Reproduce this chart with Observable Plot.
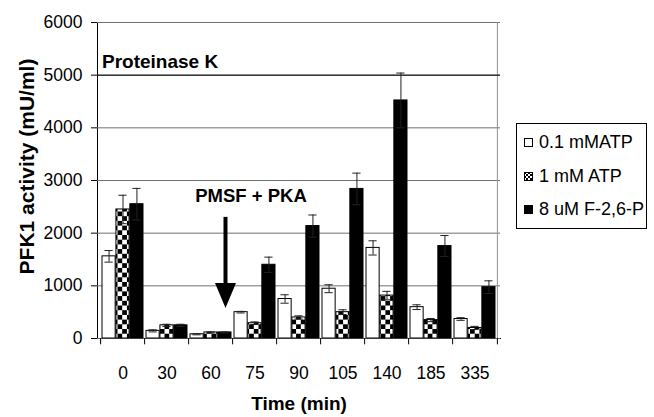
<!DOCTYPE html>
<html><head><meta charset="utf-8">
<script src="https://cdn.jsdelivr.net/npm/d3@7"></script>
<script src="https://cdn.jsdelivr.net/npm/@observablehq/plot@0.6"></script>
<style>
body{margin:0;background:#fff;font-family:"Liberation Sans",Arial,sans-serif;}
#wrap{position:relative;width:654px;height:417px;overflow:hidden;}
#legend{position:absolute;left:516px;top:123px;width:131px;height:106px;border:1px solid #000;box-sizing:border-box;background:#fff;font-size:18px;color:#000;}
.row{position:absolute;left:7px;display:flex;align-items:center;white-space:nowrap;line-height:20px;}
.row svg{margin-right:6px;display:block}
</style></head><body><div id="wrap"></div>
<script>
// ---- data ----
const times = ["0","30","60","75","90","105","140","185","335"];
const series = ["0.1 mMATP","1 mM ATP","8 uM F-2,6-P"];
const atp01    = [1560,145,80,500,750,945,1720,595,370];
const atp01Err = [110,20,10,15,80,75,135,45,25];
const atp1     = [2450,250,115,290,400,500,815,350,200];
const atp1Err  = [270,20,10,25,30,45,80,30,30];
const f26p     = [2550,250,115,1400,2135,2840,4520,1755,975];
const f26pErr  = [300,20,10,145,210,300,520,200,120];
const yTicks = [0,1000,2000,3000,4000,5000,6000];
const labelK = [{label:"Proteinase K", y:5250}];
const markLine = [5000];
const labelPMSF = [{label:"PMSF + PKA", time:"75", y:2700}];
const arrows = [{time:"60", from:2300, to:570}];

// ---- layout ----
const W = 654, H = 417, mL = 97, mR = 154, mT = 22, mB = 79;
const padIn = 0.067;
const step = (W - mL - mR) / times.length;
const bw = step * (1 - padIn);
const sub = bw / 3;
const capW = 9;
const fills = ["white", "url(#checker)", "black"];
const values = [atp01, atp1, f26p];
const errs = [atp01Err, atp1Err, f26pErr];
const rows = series.map((s, k) => times.map((t, i) => ({time: t, series: s, k, value: values[k][i], err: errs[k][i]})));

const marks = [
  Plot.ruleY(yTicks, {stroke: "#707070"}),
  Plot.ruleX([times[times.length-1]], {x: d => d, dx: step/2, y1: 0, y2: 6000, stroke: "#909090"}),
  Plot.ruleY(markLine, {stroke: "black"}),
  Plot.ruleX(times, {x: d => d, dx: -step/2, y1: 0, y2: -120, stroke: "black"}),
  Plot.ruleX([times[times.length-1]], {x: d => d, dx: step/2, y1: 0, y2: -120, stroke: "black"})
];
rows.forEach((r, k) => {
  marks.push(Plot.barY(r, {x: "time", y: "value", fill: fills[k], stroke: "black", strokeWidth: 1,
    insetLeft: k * sub, insetRight: (2 - k) * sub}));
});
rows.forEach((r, k) => {
  const dx = (k - 1) * sub;
  const il = k * sub + (sub - capW) / 2, ir = (2 - k) * sub + (sub - capW) / 2;
  marks.push(Plot.ruleX(r, {x: "time", y1: d => d.value - d.err, y2: d => d.value + d.err, dx, stroke: "#222"}));
  marks.push(Plot.tickY(r, {x: "time", y: d => d.value + d.err, insetLeft: il, insetRight: ir, stroke: "#222"}));
  marks.push(Plot.tickY(r, {x: "time", y: d => d.value - d.err, insetLeft: il, insetRight: ir, stroke: "#222"}));
});
marks.push(Plot.text(labelK, {frameAnchor: "left", y: "y", text: "label", textAnchor: "start", dx: 4.5, fontWeight: "bold", fontSize: 19}));
marks.push(Plot.text(labelPMSF, {x: "time", y: "y", text: "label", dx: -4, fontWeight: "bold", fontSize: 18.5}));
marks.push((index, scales) => {
  const {x, y} = scales;
  const g = d3.create("svg:g");
  for (const a of arrows) {
    const cx = x(a.time) + x.bandwidth() / 2 + 15;
    const top = y(a.from), tip = y(a.to), head = 25, hw = 10.5;
    g.append("rect").attr("x", cx - 2).attr("y", top).attr("width", 4).attr("height", tip - head - top + 1).attr("fill", "black");
    g.append("path").attr("d", `M${cx - hw},${tip - head}L${cx + hw},${tip - head}L${cx},${tip}Z`).attr("fill", "black");
  }
  return g.node();
});
marks.push(Plot.text(["Time (min)"], {frameAnchor: "bottom", dy: 71, fontWeight: "bold", fontSize: 19}));
marks.push(Plot.text(["PFK1 activity (mU/ml)"], {frameAnchor: "left", textAnchor: "middle", rotate: -90, dx: -70, dy: -14, fontWeight: "bold", fontSize: 21}));

const svg = Plot.plot({
  width: W, height: H,
  marginLeft: mL, marginRight: mR, marginTop: mT, marginBottom: mB,
  style: {fontFamily: '"Liberation Sans", Arial, sans-serif', fontSize: "17.5px", background: "white", color: "black", overflow: "visible"},
  x: {domain: times, paddingInner: padIn, paddingOuter: padIn / 2, tickSize: 0, tickPadding: 28, label: null, line: true},
  y: {domain: [0, 6000], ticks: yTicks, tickSize: 6, tickPadding: 9, label: null, line: true, tickFormat: d => String(d)},
  marks
});

// checker pattern
const defs = d3.create("svg:defs");
const pat = defs.append("pattern").attr("id", "checker").attr("patternUnits", "userSpaceOnUse").attr("width", 9.4).attr("height", 9.4);
pat.append("rect").attr("width", 9.4).attr("height", 9.4).attr("fill", "white");
pat.append("rect").attr("width", 4.7).attr("height", 4.7).attr("fill", "black");
pat.append("rect").attr("x", 4.7).attr("y", 4.7).attr("width", 4.7).attr("height", 4.7).attr("fill", "black");
const pat2 = defs.append("pattern").attr("id", "checkerSmall").attr("patternUnits", "userSpaceOnUse").attr("width", 4).attr("height", 4);
pat2.append("rect").attr("width", 4).attr("height", 4).attr("fill", "white");
pat2.append("rect").attr("width", 2).attr("height", 2).attr("fill", "black");
pat2.append("rect").attr("x", 2).attr("y", 2).attr("width", 2).attr("height", 2).attr("fill", "black");
svg.insertBefore(defs.node(), svg.firstChild);

const wrap = document.getElementById("wrap");
wrap.appendChild(svg);

// legend
const legend = document.createElement("div");
legend.id = "legend";
const legendFill = ["white", "url(#checkerSmall)", "black"];
const rowTops = [8, 42, 75];
series.forEach((s, k) => {
  const row = document.createElement("div");
  row.className = "row";
  row.style.top = rowTops[k] + "px";
  row.innerHTML = `<svg width="9" height="9"><rect x="0.5" y="0.5" width="8" height="8" fill="${legendFill[k]}" stroke="black"/></svg><span></span>`;
  row.querySelector("span").textContent = s;
  legend.appendChild(row);
});
wrap.appendChild(legend);
</script>
</body></html>
